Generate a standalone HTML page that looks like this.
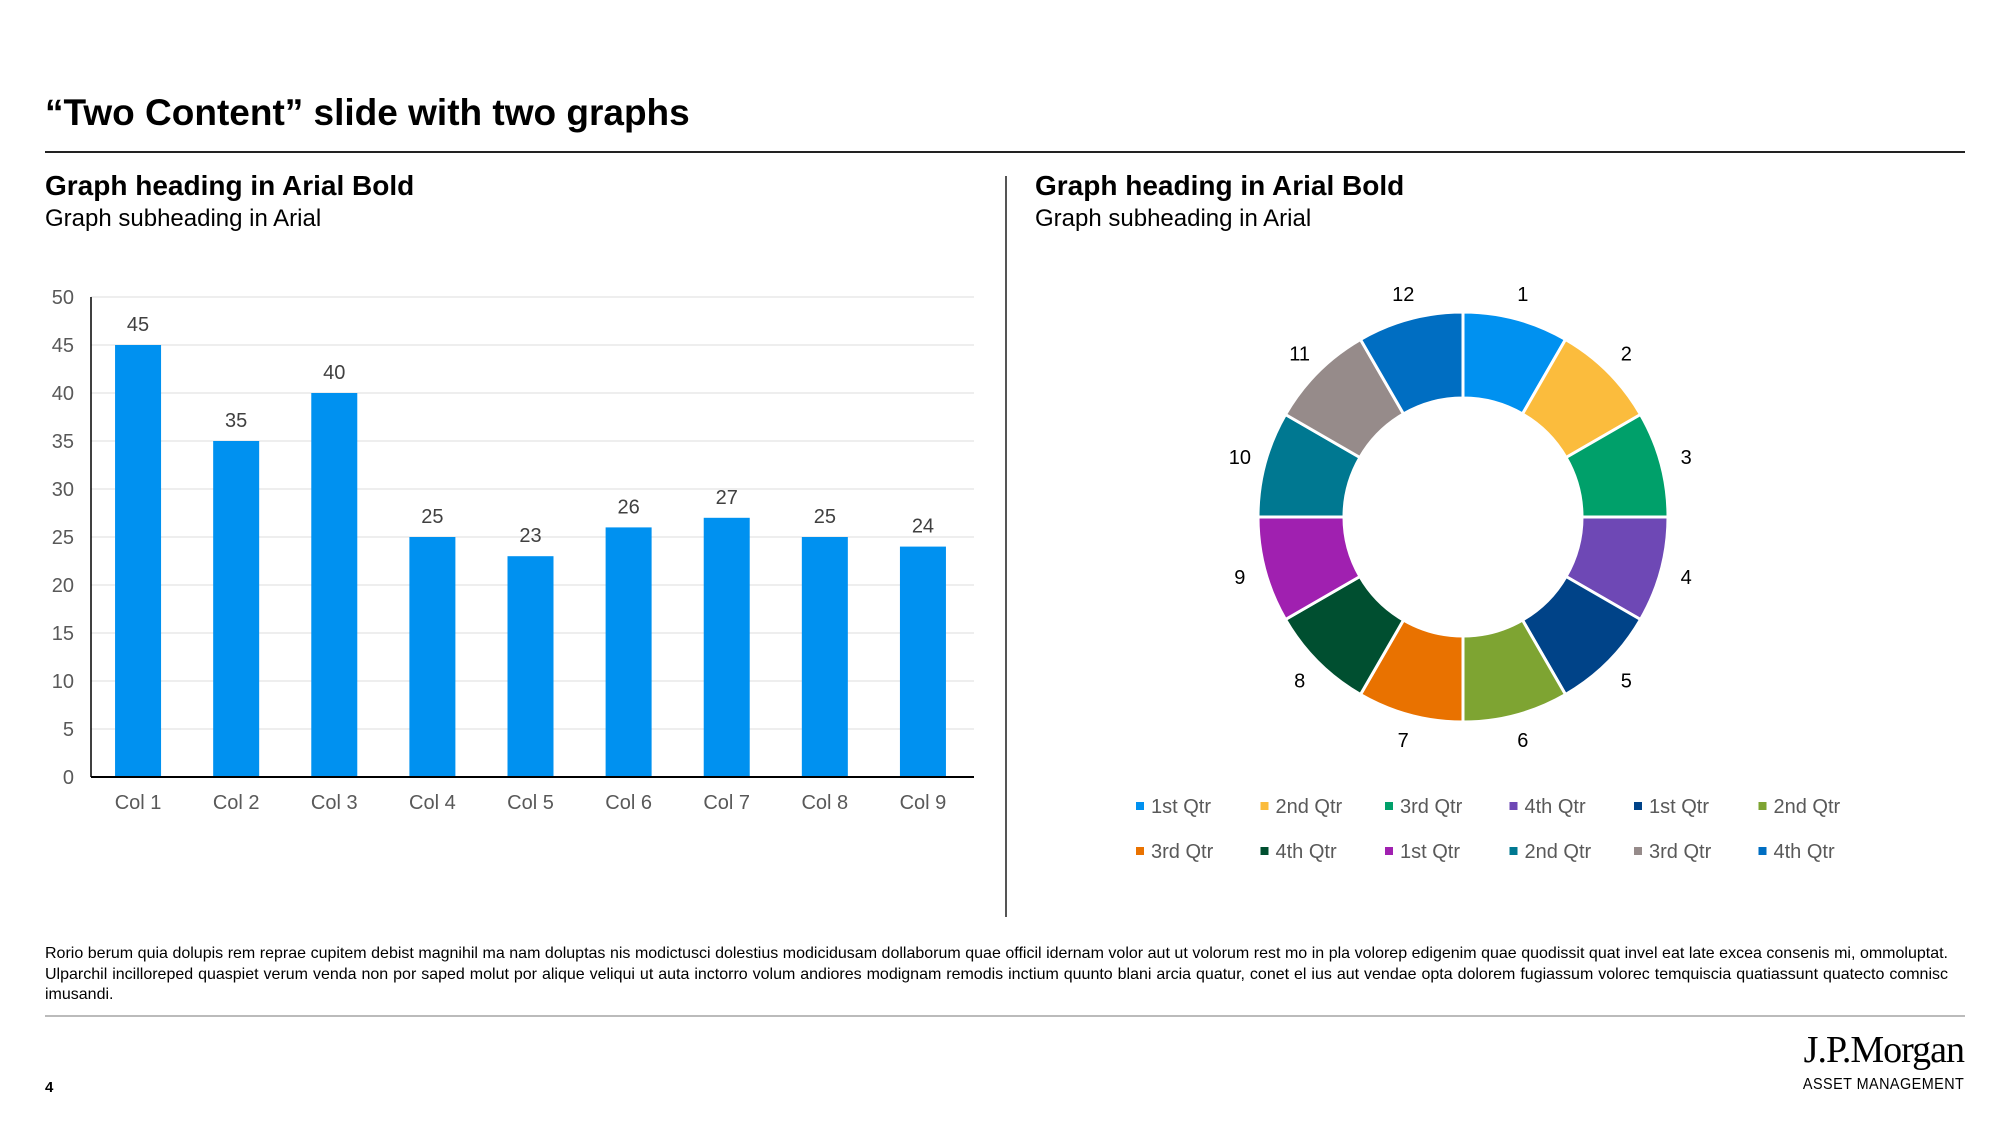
<!DOCTYPE html>
<html><head><meta charset="utf-8">
<style>
html,body{margin:0;padding:0;background:#fff;}
body{width:2000px;height:1125px;overflow:hidden;position:relative;font-family:"Liberation Sans",Arial,sans-serif;color:#000;}
.abs{position:absolute;}
#body-text{left:45px;top:944px;width:1903px;font-size:16px;line-height:20.5px;text-align:justify;}
</style></head>
<body>
<div class="abs" style="left:45px;top:92px;font-size:37px;font-weight:bold;">“Two Content” slide with two graphs</div>
<div class="abs" style="left:45px;top:151px;width:1920px;height:1.5px;background:#222;"></div>
<div class="abs" style="left:45px;top:170px;font-size:28px;font-weight:bold;">Graph heading in Arial Bold</div>
<div class="abs" style="left:45px;top:205px;font-size:24px;">Graph subheading in Arial</div>
<div class="abs" style="left:1035px;top:170px;font-size:28px;font-weight:bold;">Graph heading in Arial Bold</div>
<div class="abs" style="left:1035px;top:205px;font-size:24px;">Graph subheading in Arial</div>
<div class="abs" style="left:1005px;top:176px;width:1.5px;height:741px;background:#555;"></div>

<svg class="abs" style="left:0;top:0" width="2000" height="1125" id="charts"></svg>

<div class="abs" id="body-text">Rorio berum quia dolupis rem reprae cupitem debist magnihil ma nam doluptas nis modictusci dolestius modicidusam dollaborum quae officil idernam volor aut ut volorum rest mo in pla volorep edigenim quae quodissit quat invel eat late excea consenis mi, ommoluptat. Ulparchil incilloreped quaspiet verum venda non por saped molut por alique veliqui ut auta inctorro volum andiores modignam remodis inctium quunto blani arcia quatur, conet el ius aut vendae opta dolorem fugiassum volorec temquiscia quatiassunt quatecto comnisc imusandi.</div>
<div class="abs" style="left:45px;top:1015px;width:1920px;height:1.5px;background:#bbb;"></div>
<div class="abs" style="left:45px;top:1079px;font-size:15px;font-weight:bold;">4</div>
<div class="abs" style="right:36px;top:1028px;font-family:'Liberation Serif',serif;font-size:38px;letter-spacing:-1px;">J.P.Morgan</div>
<div class="abs" style="right:36px;top:1076px;font-size:16px;letter-spacing:0.5px;transform:scaleX(0.9);transform-origin:right;">ASSET MANAGEMENT</div>

<script>
const categories = ["Col 1","Col 2","Col 3","Col 4","Col 5","Col 6","Col 7","Col 8","Col 9"];
const barValues = [45,35,40,25,23,26,27,25,24];
const yTicks = [0,5,10,15,20,25,30,35,40,45,50];
const donutValues = [1,1,1,1,1,1,1,1,1,1,1,1];
const donutLabels = ["1","2","3","4","5","6","7","8","9","10","11","12"];
const donutColors = ["#0091F0","#FBBC3D","#00A06A","#6E48B5","#004388","#7EA432","#E97200","#004F30","#A020B0","#007891","#968B8A","#006EC2"];
const legendLabels = ["1st Qtr","2nd Qtr","3rd Qtr","4th Qtr","1st Qtr","2nd Qtr","3rd Qtr","4th Qtr","1st Qtr","2nd Qtr","3rd Qtr","4th Qtr"];

const NS = "http://www.w3.org/2000/svg";
const svg = document.getElementById('charts');
function mk(tag, attrs, parent){const e=document.createElementNS(NS,tag);for(const k in attrs)e.setAttribute(k,attrs[k]);(parent||svg).appendChild(e);return e;}

// Bar chart
const plotL=91, plotR=974, plotT=297, plotB=777, yMax=50;
const y = v => plotB - (v/yMax)*(plotB-plotT);
const step = (plotR-plotL)/categories.length;
const x = i => plotL + step*(i+0.5) - 2;
const barW = 46;
yTicks.forEach(t=>{
  if(t>0){const g=mk('line',{x1:plotL,x2:plotR,y1:y(t),y2:y(t),stroke:'#e3e3e3','stroke-width':1.3});
  
  }
  const tx=mk('text',{x:74,y:y(t)+7,'text-anchor':'end','font-size':20,fill:'#595959','font-family':'Liberation Sans, sans-serif'});
  tx.textContent=t;
  
  
});
barValues.forEach((v,i)=>{
  const r=mk('rect',{x:x(i)-barW/2,y:y(v),width:barW,height:plotB-y(v),fill:'#0091F0'});
  
  
  const lt=mk('text',{x:x(i),y:y(v)-14,'text-anchor':'middle','font-size':20,fill:'#404040','font-family':'Liberation Sans, sans-serif'});
  lt.textContent=v;
  
  
  const ct=mk('text',{x:x(i),y:809,'text-anchor':'middle','font-size':20,fill:'#595959','font-family':'Liberation Sans, sans-serif'});
  ct.textContent=categories[i];
  
  
});
const ax=mk('line',{x1:plotL,x2:plotL,y1:plotT,y2:plotB,stroke:'#000','stroke-width':1.5});


const bx=mk('line',{x1:plotL,x2:plotR,y1:plotB,y2:plotB,stroke:'#000','stroke-width':2});



// Donut
const cx=1463, cy=517, R=205, r0=119, RL=231;
const total=donutValues.reduce((a,b)=>a+b,0);
let acc=0;
donutValues.forEach((v,i)=>{
  const a0=acc/total*2*Math.PI; acc+=v; const a1=acc/total*2*Math.PI;
  const p=(a,rr)=>[cx+rr*Math.sin(a), cy-rr*Math.cos(a)];
  const [x0,y0]=p(a0,R),[x1,y1]=p(a1,R),[x2,y2]=p(a1,r0),[x3,y3]=p(a0,r0);
  const large=(a1-a0)>Math.PI?1:0;
  const s=mk('path',{d:`M${x0},${y0}A${R},${R} 0 ${large} 1 ${x1},${y1}L${x2},${y2}A${r0},${r0} 0 ${large} 0 ${x3},${y3}Z`,fill:donutColors[i],stroke:'#fff','stroke-width':3});
  
  
  const am=(a0+a1)/2; const [lx,ly]=p(am,RL);
  const t=mk('text',{x:lx,y:ly+7,'text-anchor':'middle','font-size':20,fill:'#000','font-family':'Liberation Sans, sans-serif'});
  t.textContent=donutLabels[i];
  
  
});

// Legend
legendLabels.forEach((lab,i)=>{
  const col=i%6,row=Math.floor(i/6);
  const lx=1136+col*124.5, ly=806+row*45;
  const g=mk('g',{});
  
  
  mk('rect',{x:lx,y:ly-4,width:8,height:8,fill:donutColors[i]},g);
  const t=mk('text',{x:lx+15,y:ly+7,'font-size':20,fill:'#595959','font-family':'Liberation Sans, sans-serif'},g);
  t.textContent=lab;
});
</script>
</body></html>
